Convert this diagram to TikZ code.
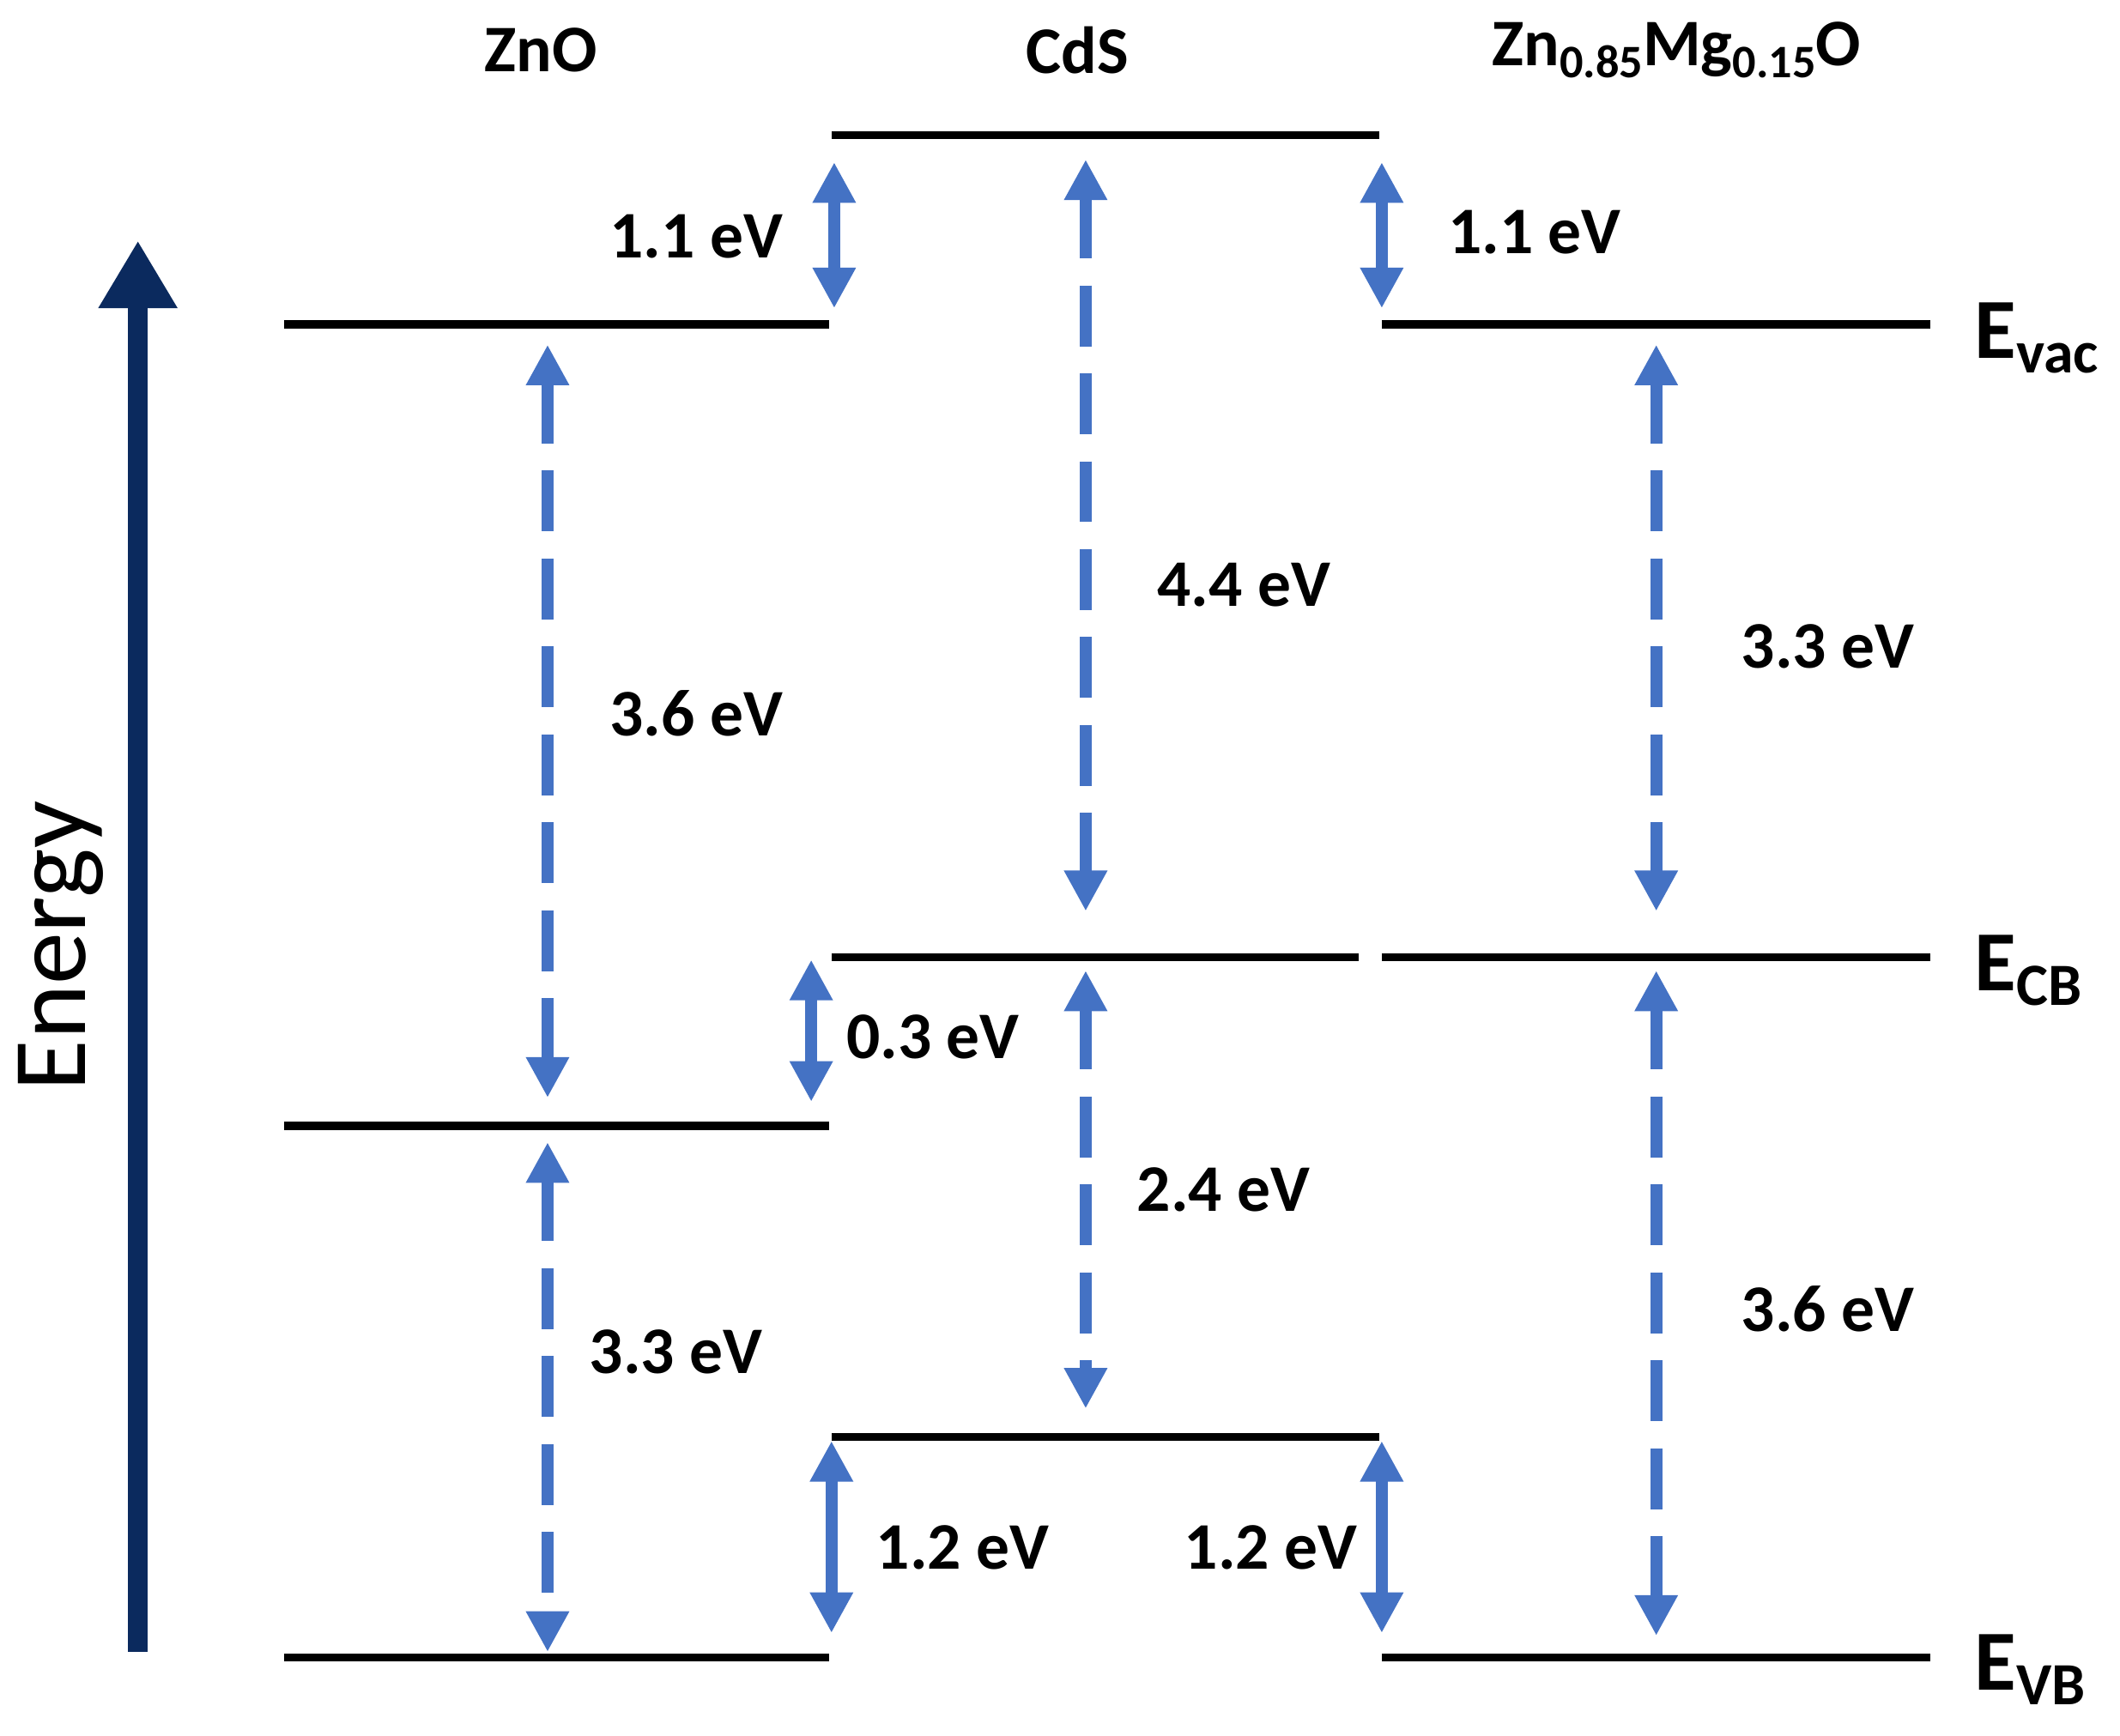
\documentclass[tikz,border=0pt]{standalone}
\usepackage{fontspec}
\setmainfont{Carlito}
\usetikzlibrary{arrows.meta}
\definecolor{ablue}{HTML}{4472C4}
\definecolor{navy}{HTML}{0B2A5E}
\newcommand{\mysub}[1]{\raisebox{-0.35ex}{\scalebox{0.7}{#1}}}
\begin{document}
\begin{tikzpicture}[x=0.01cm,y=-0.01cm,
 lvl/.style={line width=0.06cm,black},
 sarr/.style={line width=0.09cm,ablue,{Triangle[width=0.3cm,length=0.3cm]}-{Triangle[width=0.3cm,length=0.3cm]}},
 darr/.style={sarr,dash pattern=on 0.45cm off 0.2cm},
 lab/.style={font=\fontsize{14}{16}\selectfont\bfseries},
 elab/.style={font=\fontsize{18}{20}\selectfont\bfseries,anchor=west}]
\useasboundingbox (0,0) rectangle (1568,1284);
% levels
\draw[lvl] (615,100) -- (1020,100);
\draw[lvl] (210,240) -- (613,240);
\draw[lvl] (1022,240) -- (1428,240);
\draw[lvl] (615,708) -- (1005,708);
\draw[lvl] (1022,708) -- (1428,708);
\draw[lvl] (210,833) -- (613,833);
\draw[lvl] (615,1063) -- (1020,1063);
\draw[lvl] (210,1226) -- (613,1226);
\draw[lvl] (1022,1226) -- (1428,1226);
% coordinates
\coordinate (a1) at (617,120); \coordinate (a2) at (617,228);
\coordinate (b1) at (1022,120); \coordinate (b2) at (1022,228);
\coordinate (c1) at (600,710); \coordinate (c2) at (600,815);
\coordinate (d1) at (615,1066); \coordinate (d2) at (615,1208);
\coordinate (e1) at (1022,1066); \coordinate (e2) at (1022,1208);
\coordinate (f1) at (405,255); \coordinate (f2) at (405,812);
\coordinate (g1) at (405,845); \coordinate (g2) at (405,1222);
\coordinate (h1) at (803,118); \coordinate (h2) at (803,674);
\coordinate (i1) at (803,718); \coordinate (i2) at (803,1042);
\coordinate (j1) at (1225,255); \coordinate (j2) at (1225,674);
\coordinate (k1) at (1225,718); \coordinate (k2) at (1225,1210);
\draw[sarr] (a1) -- (a2);
\draw[sarr] (b1) -- (b2);
\draw[sarr] (c1) -- (c2);
\draw[sarr] (d1) -- (d2);
\draw[sarr] (e1) -- (e2);
\draw[darr] (f1) -- (f2);
\draw[darr] (g1) -- (g2);
\draw[darr] (h1) -- (h2);
\draw[darr] (i1) -- (i2);
\draw[darr] (j1) -- (j2);
\draw[darr] (k1) -- (k2);
% labels
\node[lab] at (515,175) {1.1 eV};
\node[lab] at (1135,172) {1.1 eV};
\node[lab] at (515,528) {3.6 eV};
\node[lab] at (920,433) {4.4 eV};
\node[lab] at (1352,478) {3.3 eV};
\node[lab] at (690,767) {0.3 eV};
\node[lab] at (905,880) {2.4 eV};
\node[lab] at (500,1000) {3.3 eV};
\node[lab] at (1352,968) {3.6 eV};
\node[lab] at (712,1145) {1.2 eV};
\node[lab] at (940,1145) {1.2 eV};
\node[lab] at (400,37) {ZnO};
\node[lab] at (797,37) {CdS};
\node[lab] at (1240,37) {Zn\mysub{0.85}Mg\mysub{0.15}O};
\node[elab] at (1448,250) {E\mysub{vac}};
\node[elab] at (1448,718) {E\mysub{CB}};
\node[elab] at (1448,1235) {E\mysub{VB}};
% energy axis
\coordinate (en1) at (102,1222); \coordinate (en2) at (102,178);
\draw[navy,line width=0.15cm,-{Triangle[width=0.55cm,length=0.5cm]}] (en1) -- (en2);
\node[rotate=90,font=\fontsize{22}{24}\selectfont] (energy) at (45,700) {Energy};
\end{tikzpicture}
\end{document}
